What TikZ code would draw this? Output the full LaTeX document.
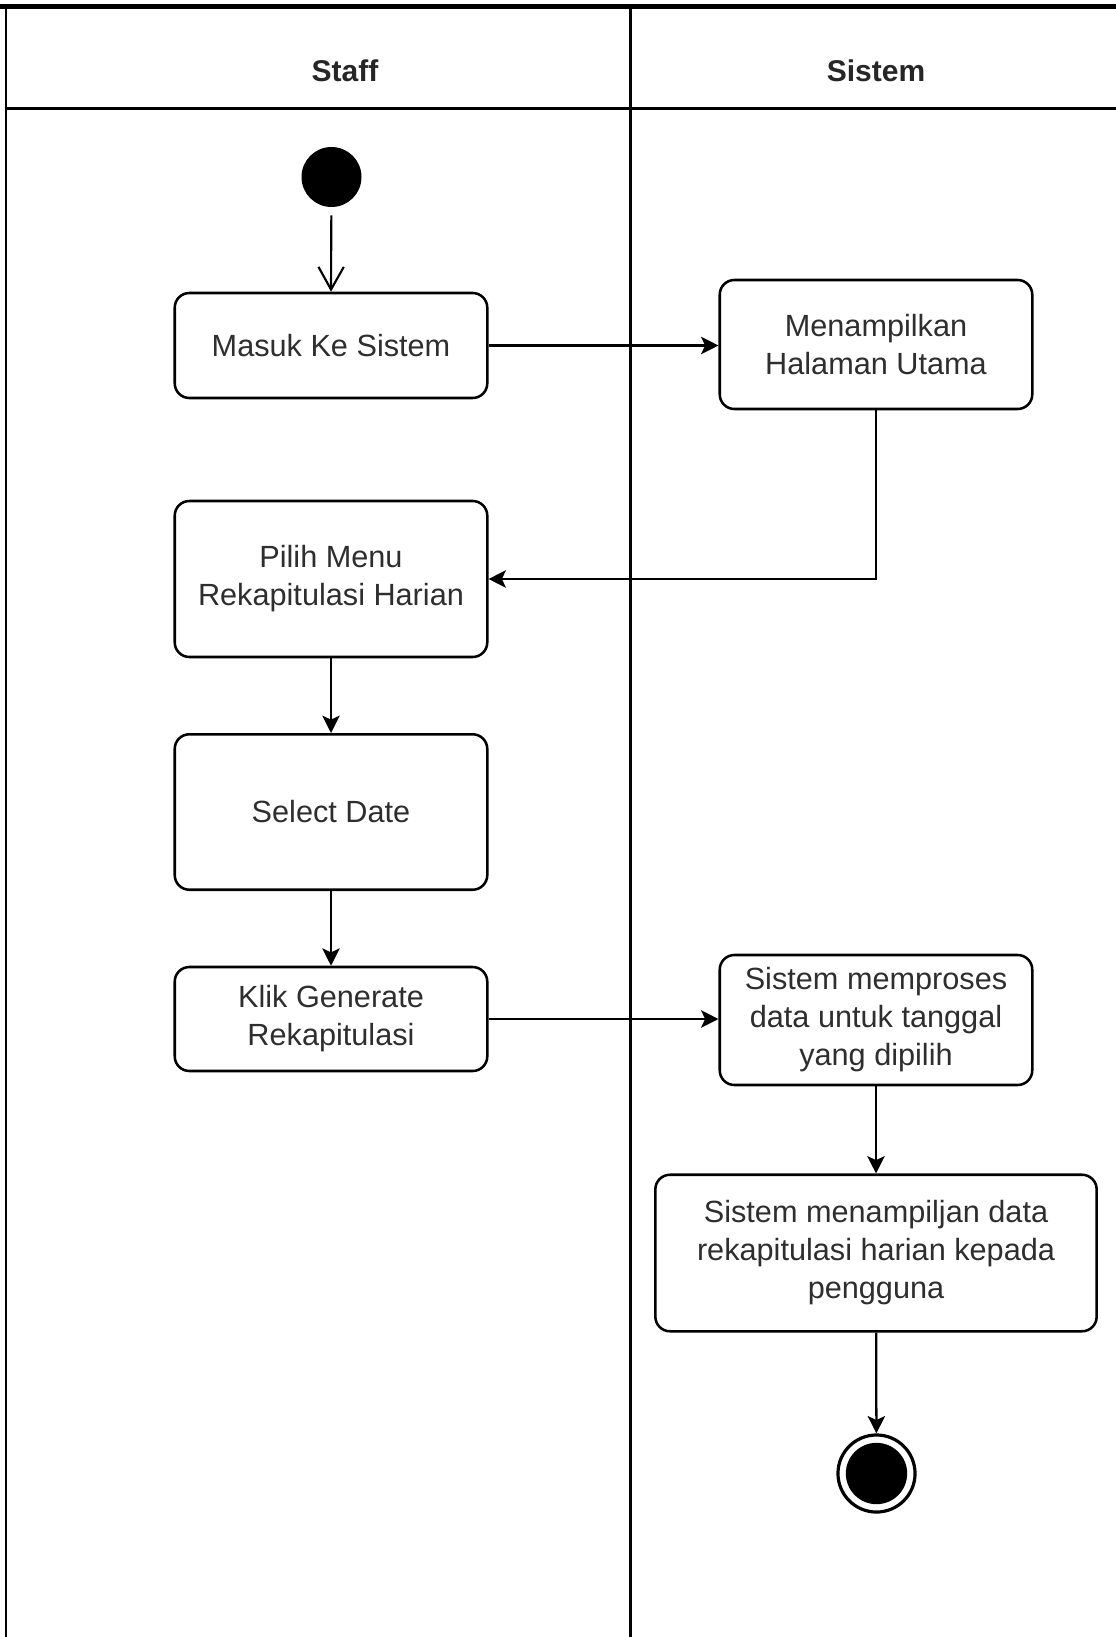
\documentclass[tikz,border=0pt]{standalone}
\usepackage{fontspec}
\setmainfont{Liberation Sans}
\usetikzlibrary{arrows.meta,shapes.geometric}

\begin{document}
\begin{tikzpicture}[x=0.75pt,y=-0.75pt,
  action/.style={draw=black, line width=1.9pt, rounded corners=11pt, fill=white,
    text=black!82, align=center, font=\fontsize{23}{28.5}\selectfont,
    minimum width=234.4pt, inner sep=4pt},
  lane/.style={draw=black, line width=1.8pt},
  flow/.style={draw=black, line width=1.7pt, -{Stealth[length=13pt,width=13pt,inset=3pt]}},
  header/.style={font=\fontsize{22.5}{26}\selectfont\bfseries, text=black!85}
]
  % page area
  \useasboundingbox (0,0) rectangle (1116,1637);
  \fill[white] (0,0) rectangle (1116,1637);

  % swimlane frame
  \draw[line width=4pt] (0,6.5) -- (1116,6.5);
  \draw[lane] (6,9) -- (6,1637);
  \draw[lane] (630.5,9) -- (630.5,1637);
  \draw[lane] (6,108.5) -- (1116,108.5);
  \node[header] (hstaff) at (345,71) {Staff};
  \node[header] (hsistem) at (876,71) {Sistem};

  % start and end
  \node[circle, fill=black, minimum size=45pt, inner sep=0pt] (start) at (331.5,177) {};
  \node[circle, draw=black, line width=2.4pt, minimum size=57.8pt, inner sep=0pt, fill=white] (end) at (876.5,1473.5) {};
  \fill[black] (end.center) circle[radius=23pt];

  % actions
  \node[action, minimum height=78.75pt] (masuk) at (331,345.5) {Masuk Ke Sistem};
  \node[action, minimum height=96.75pt] (utama) at (876,344.5) {Menampilkan\\Halaman Utama};
  \node[action, minimum height=117pt] (menu) at (331,579) {Pilih Menu\\Rekapitulasi Harian};
  \node[action, minimum height=116.6pt] (tanggal) at (331,812) {Select Date};
  \node[action, minimum height=78pt] (klik) at (331,1019) {Klik Generate\\Rekapitulasi};
  \node[action, minimum height=97.5pt] (proses) at (876,1020) {Sistem memproses\\data untuk tanggal\\yang dipilih};
  \node[action, minimum height=117.4pt, minimum width=331pt] (tampil) at (876,1253) {Sistem menampiljan data\\rekapitulasi harian kepada\\pengguna};

  % connectors
  \draw[line width=1.6pt, -{Straight Barb[length=17pt,width=19pt]}, shorten <=6pt] (start) -- (masuk.north);
  \draw[flow] (masuk.east) -- (masuk.east -| utama.west);
  \draw[flow] (utama.south) |- (menu.east);
  \draw[flow] (menu) -- (tanggal);
  \draw[flow] (tanggal) -- (klik);
  \draw[flow] (klik.east) -- (klik.east -| proses.west);
  \draw[flow] (proses) -- (tampil);
  \draw[flow] (tampil) -- (end);
\end{tikzpicture}
\end{document}
